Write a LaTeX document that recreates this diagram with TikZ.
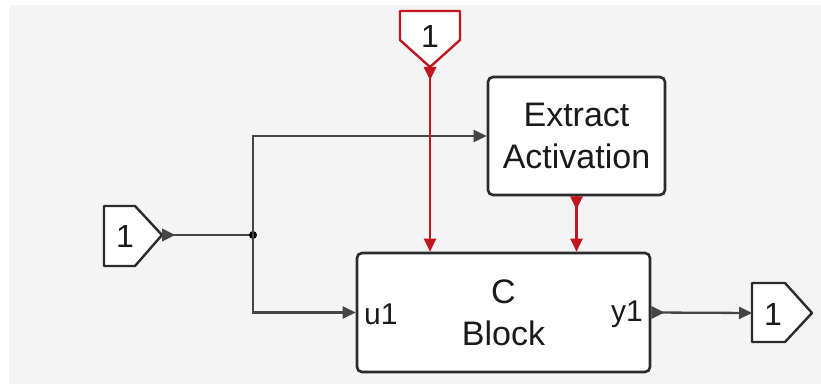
\documentclass[tikz,border=0pt]{standalone}
\usepackage{fontspec}
\setmainfont{Liberation Sans}
\usetikzlibrary{arrows.meta}
\definecolor{bg}{HTML}{F4F4F4}
\definecolor{ln}{HTML}{454545}
\definecolor{bd}{HTML}{2B2B2B}
\definecolor{rd}{HTML}{C0161F}
\definecolor{tx}{HTML}{1A1A1A}
\begin{document}
\begin{tikzpicture}[x=1pt,y=-1pt,
  blk/.style={draw=bd, line width=2.6pt, fill=white, rounded corners=5pt,
    text=tx, font=\fontsize{34}{42}\selectfont, align=center, inner sep=0pt},
  port/.style={draw=bd, line width=2.4pt, fill=white, line join=round},
  rport/.style={draw=rd, line width=2.4pt, fill=white, line join=round},
  lbl/.style={text=tx, font=\fontsize{32}{38}\selectfont, inner sep=0pt},
  plbl/.style={text=tx, font=\fontsize{30}{34}\selectfont, inner sep=0pt},
  sig/.style={draw=ln, line width=2.3pt},
  rsig/.style={draw=rd, line width=2.3pt},
  arr/.style={-{Triangle[length=13pt,width=12pt]}},
  mk/.pic={\fill (0,-6.5) -- (13,0) -- (0,6.5) -- cycle;}
]
\useasboundingbox (0,0) rectangle (821,387);
\fill[bg] (9,5) rectangle (821,384);

% blocks
\node[blk, minimum width=177pt, minimum height=118pt] (ext) at (576.5,136) {Extract\\Activation};
\node[blk, minimum width=293pt, minimum height=119pt] (cb) at (503.5,312.5) {C\\Block};
\node[plbl, anchor=west] (u1) at (364,314) {u1};
\node[plbl, anchor=east] (y1) at (643,314) {y1};

% ports
\draw[port] (104,206) -- (135,206) -- (162,235) -- (135,266) -- (104,266) -- cycle;
\node[lbl] (in1) at (125,236) {1};
\coordinate (in1o) at (162,235);

\draw[rport] (400,11) -- (460,11) -- (460,40) -- (430,67) -- (400,40) -- cycle;
\node[lbl] (in2) at (430,36) {1};
\coordinate (in2o) at (430,67);

\draw[port] (752,283) -- (785,283) -- (812,313) -- (785,342) -- (752,342) -- cycle;
\node[lbl] (out1) at (773,314) {1};
\coordinate (out1i) at (752,313);

% junction
\coordinate (j) at (253,235);

% gray signals
\draw[sig] (in1o) -- (j);
\pic[ln] at (in1o) {mk};
\fill[black] (j) circle (4pt);
\draw[sig,arr] (j) |- (ext.west);
\draw[sig,arr] (j) |- (cb.west);
\draw[sig,arr] (cb.east) -- (out1i);
\pic[ln] at (cb.east) {mk};

% red signals
\draw[rsig,arr] (in2o) -- (in2o |- cb.north);
\pic[rd, rotate=-90] at (in2o) {mk};
\draw[rsig,arr] (ext.south) -- (ext.south |- cb.north);
\pic[rd, rotate=-90] at (ext.south) {mk};
\end{tikzpicture}
\end{document}
